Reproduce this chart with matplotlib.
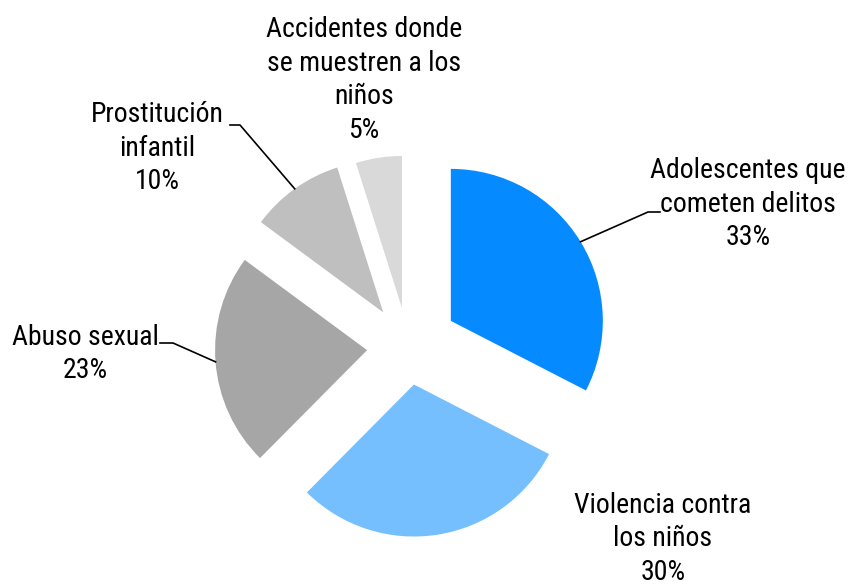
import numpy as np
import matplotlib.pyplot as plt

categories = ["Adolescentes que\ncometen delitos", "Violencia contra\nlos niños",
              "Abuso sexual", "Prostitución\ninfantil",
              "Accidentes donde\nse muestren a los\nniños"]
values = [32.6, 29.9, 22.7, 10.0, 4.9]
colors = ["#058BFF", "#75BFFF", "#A6A6A6", "#BFBFBF", "#D9D9D9"]
explode = [0.33, 0.25, 0.27, 0.28, 0.26]

W, H = 855, 586
CX, CY, R = 408, 347, 152   # pie centre and radius in pixels


def px(x, y):
    # pixel position -> data coordinates (pie radius = 1)
    return (x - CX) / R, (CY - y) / R


plt.rcParams["font.family"] = ["Roboto Condensed", "DejaVu Sans"]
plt.rcParams["font.stretch"] = "condensed"
fig = plt.figure(figsize=(W / 100, H / 100), dpi=100)
ax = fig.add_axes([0, 0, 1, 1])

wedges, _ = ax.pie(values, explode=explode, startangle=90,
                   counterclock=False, colors=colors, radius=1)

x0, y1 = px(0, 0)
x1, y0 = px(W, H)
ax.set_xlim(x0, x1)
ax.set_ylim(y0, y1)
ax.set_aspect("auto")
ax.axis("off")

total = sum(values)
labels = [f"{c}\n{round(v / total * 100)}%" for c, v in zip(categories, values)]

# text centre positions (pixels)
text_pos = [(748, 204), (663, 539), (85, 354), (157, 148), (364, 80)]
# leader lines: elbow point and end point (pixels); None = no leader
leaders = [((648, 212), (660, 212)), None, ((173, 343), (160, 343)),
           ((240, 125), (230, 125)), None]

for w, lab, tp, ld in zip(wedges, labels, text_pos, leaders):
    tx, ty = px(*tp)
    ax.text(tx, ty, lab, ha="center", va="center", fontsize=20,
            linespacing=1.32, color="black")
    if ld is not None:
        mid = np.deg2rad((w.theta1 + w.theta2) / 2)
        cx, cy = w.center
        sx, sy = cx + w.r * np.cos(mid), cy + w.r * np.sin(mid)
        ex, ey = px(*ld[0])
        fx, fy = px(*ld[1])
        ax.plot([sx, ex, fx], [sy, ey, fy], color="black", lw=1.2)

fig.savefig("out.png", dpi=100)
